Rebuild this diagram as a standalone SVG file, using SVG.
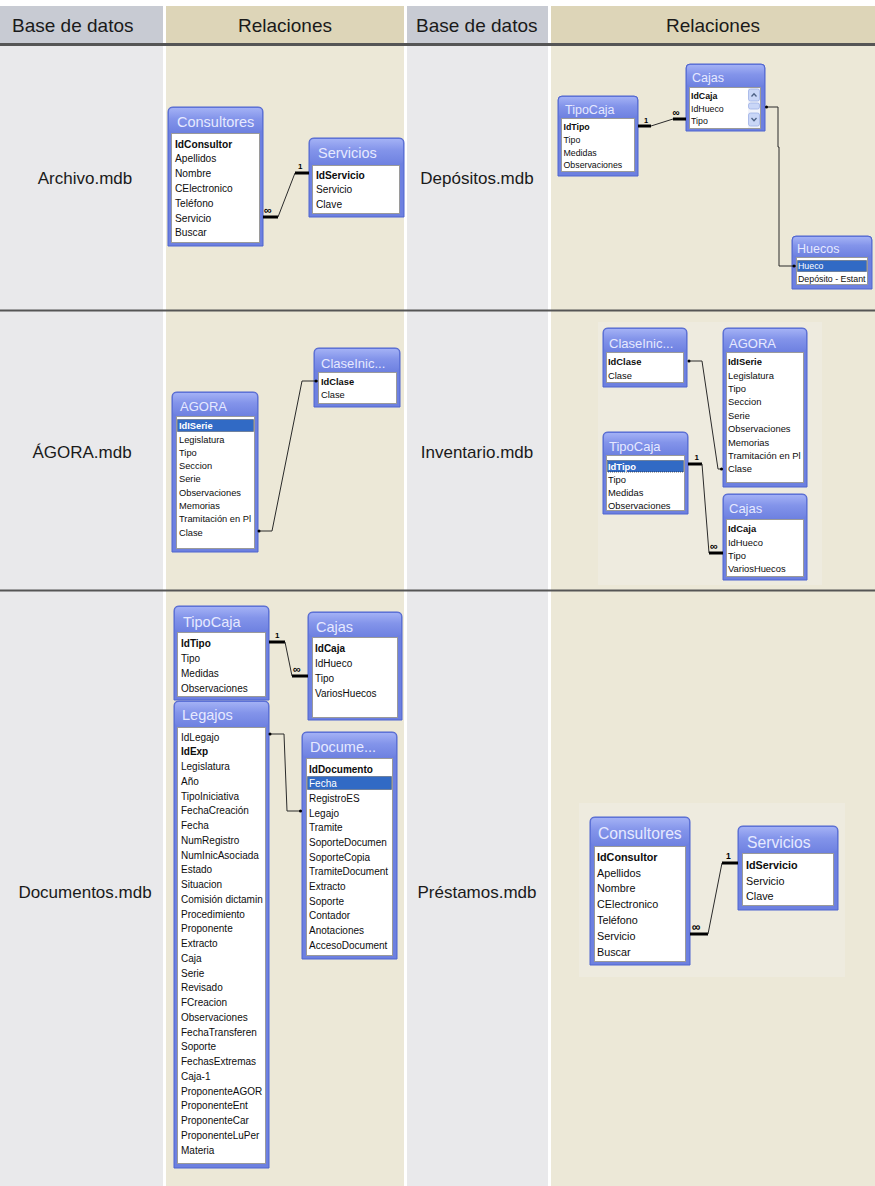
<svg xmlns="http://www.w3.org/2000/svg" width="875" height="1186" viewBox="0 0 875 1186">
<style>
.fr{fill:#6d80e0;stroke:#4f64cf;stroke-width:1}
.tg{fill:url(#tgr)}
.ls{fill:#fff;stroke:#9a9a9a;stroke-width:1}
.tt{font-family:"Liberation Sans",Arial,sans-serif;fill:#e6e9ff}
.f{font-family:"Liberation Sans",Arial,sans-serif;fill:#0d0d0d}
.b{font-weight:bold}
.sl{fill:#316ac5;stroke:#222;stroke-width:0.7;stroke-dasharray:1 1}
.w{fill:#fff}
.ln{fill:none;stroke:#2a2a2a;stroke-width:1}
.tk{fill:none;stroke:#000;stroke-width:3}
.dt{fill:#000}
.cd{font-family:"Liberation Sans",Arial,sans-serif;font-weight:bold;fill:#000}
.hd{font-family:"Liberation Sans",Arial,sans-serif;font-size:19px;fill:#1a1a1a}
.lb{font-family:"Liberation Sans",Arial,sans-serif;font-size:17px;fill:#1a1a1a}
.g1{fill:#e9e9eb}.g2{fill:#ece8d7}
.sep{fill:#555}
.sb{fill:#c9d6f7;stroke:#9fb1e6;stroke-width:0.8}
.ar{fill:none;stroke:#4d6185;stroke-width:1.3}
.ib{fill:#eeebdf}
</style>
<defs>
<linearGradient id="tgr" x1="0" y1="0" x2="0" y2="1">
<stop offset="0" stop-color="#a3b1f5"/>
<stop offset="0.45" stop-color="#8394ea"/>
<stop offset="1" stop-color="#6f82e1"/>
</linearGradient>
<clipPath id="c1"><rect x="176" y="416" width="79" height="133"/></clipPath>
<clipPath id="c2"><rect x="726" y="352" width="78" height="131"/></clipPath>
<clipPath id="c3"><rect x="796" y="257" width="72" height="28"/></clipPath>
<clipPath id="c4"><rect x="177" y="727" width="89" height="437"/></clipPath>
<clipPath id="c5"><rect x="306" y="758" width="87" height="198"/></clipPath>
</defs>

<g id="background">
<rect x="0" y="0" width="875" height="1186" fill="#fff"/>
<rect x="0" y="6" width="163" height="37" fill="#c8cbd3"/>
<rect x="166" y="6" width="238" height="37" fill="#ddd5b8"/>
<rect x="407" y="6" width="141" height="37" fill="#c8cbd3"/>
<rect x="551" y="6" width="324" height="37" fill="#ddd5b8"/>
<rect class="g1" x="0" y="46" width="163" height="1140"/>
<rect class="g2" x="166" y="46" width="238" height="1140"/>
<rect class="g1" x="407" y="46" width="141" height="1140"/>
<rect class="g2" x="551" y="46" width="324" height="1140"/>
<rect class="ib" x="598" y="322" width="224" height="263"/>
<rect class="ib" x="579" y="803" width="266" height="174"/>
<rect class="sep" x="0" y="43" width="875" height="3"/>
<rect class="sep" x="0" y="309.5" width="875" height="2"/>
<rect class="sep" x="0" y="589.5" width="875" height="2"/>
</g>

<g id="headers">
<text class="hd" x="12" y="32">Base de datos</text>
<text class="hd" x="285" y="32" text-anchor="middle">Relaciones</text>
<text class="hd" x="416" y="32">Base de datos</text>
<text class="hd" x="713" y="32" text-anchor="middle">Relaciones</text>
</g>

<g id="labels">
<text class="lb" x="85" y="184" text-anchor="middle">Archivo.mdb</text>
<text class="lb" x="477" y="184" text-anchor="middle">Depósitos.mdb</text>
<text class="lb" x="82" y="458" text-anchor="middle">ÁGORA.mdb</text>
<text class="lb" x="477" y="458" text-anchor="middle">Inventario.mdb</text>
<text class="lb" x="85" y="898" text-anchor="middle">Documentos.mdb</text>
<text class="lb" x="477" y="898" text-anchor="middle">Préstamos.mdb</text>
</g>

<!-- Archivo -->
<g id="archivo-consultores">
<path class="fr" d="M168,246V112Q168,107 173,107H258Q263,107 263,112V246Z"/>
<rect class="tg" x="169" y="108" width="93" height="24" rx="4"/>
<text class="tt" x="177" y="127" font-size="14.5">Consultores</text>
<rect class="ls" x="171.5" y="133.5" width="88" height="109"/>
<g class="f" font-size="10.2">
<text class="b" x="175" y="147.5">IdConsultor</text>
<text x="175" y="162.3">Apellidos</text>
<text x="175" y="177.1">Nombre</text>
<text x="175" y="191.9">CElectronico</text>
<text x="175" y="206.7">Teléfono</text>
<text x="175" y="221.5">Servicio</text>
<text x="175" y="236.3">Buscar</text>
</g>
</g>
<g id="archivo-servicios">
<path class="fr" d="M309,217V143Q309,138 314,138H399Q404,138 404,143V217Z"/>
<rect class="tg" x="310" y="139" width="93" height="25" rx="4"/>
<text class="tt" x="318" y="158" font-size="14.5">Servicios</text>
<rect class="ls" x="312.5" y="165.5" width="87" height="48"/>
<g class="f" font-size="10.2">
<text class="b" x="316" y="178.6">IdServicio</text>
<text x="316" y="193.4">Servicio</text>
<text x="316" y="208.2">Clave</text>
</g>
</g>

<!-- Depositos -->
<g id="depositos-tipocaja">
<path class="fr" d="M558,176V100Q558,96 562,96H634Q638,96 638,100V176Z"/>
<rect class="tg" x="559" y="97" width="78" height="20" rx="3"/>
<text class="tt" x="565" y="113.5" font-size="12.5">TipoCaja</text>
<rect class="ls" x="561.5" y="118.5" width="73" height="53"/>
<g class="f" font-size="8.8">
<text class="b" x="563.5" y="130">IdTipo</text>
<text x="563.5" y="143">Tipo</text>
<text x="563.5" y="155.5">Medidas</text>
<text x="563.5" y="168">Observaciones</text>
</g>
</g>
<g id="depositos-cajas">
<path class="fr" d="M686,131V68Q686,64 690,64H761Q765,64 765,68V131Z"/>
<rect class="tg" x="687" y="65" width="77" height="21" rx="3"/>
<text class="tt" x="692" y="81.5" font-size="12.5">Cajas</text>
<rect class="ls" x="689.5" y="87.5" width="71" height="41"/>
<rect x="748" y="88" width="12" height="40" fill="#f1f3fb"/>
<rect class="sb" x="748.5" y="89" width="11" height="12" rx="2"/>
<polyline class="ar" points="751.5,96.5 754,93.8 756.5,96.5"/>
<rect class="sb" x="748.5" y="103" width="11" height="6" rx="2"/>
<rect class="sb" x="748.5" y="113" width="11" height="13" rx="2"/>
<polyline class="ar" points="751.5,118 754,120.8 756.5,118"/>
<g class="f" font-size="8.8">
<text class="b" x="691" y="99">IdCaja</text>
<text x="691" y="111.5">IdHueco</text>
<text x="691" y="124">Tipo</text>
</g>
</g>
<g id="depositos-huecos">
<path class="fr" d="M792,289V240Q792,236 796,236H868Q872,236 872,240V289Z"/>
<rect class="tg" x="793" y="237" width="78" height="19" rx="3"/>
<text class="tt" x="797" y="252.5" font-size="12.5">Huecos</text>
<rect class="ls" x="796.5" y="257.5" width="71" height="27"/>
<g clip-path="url(#c3)">
<rect class="sl" x="797.5" y="260.5" width="69" height="11"/>
<g class="f" font-size="8.8">
<text class="w" x="798" y="269.3">Hueco</text>
<text x="798" y="282">Depósito - Estant</text>
</g>
</g>
</g>

<!-- AGORA -->
<g id="agora-agora">
<path class="fr" d="M172,552V397Q172,392 177,392H253Q258,392 258,397V552Z"/>
<rect class="tg" x="173" y="393" width="84" height="22" rx="4"/>
<text class="tt" x="180" y="410.5" font-size="13">AGORA</text>
<rect class="ls" x="176.5" y="416.5" width="78" height="132"/>
<g clip-path="url(#c1)">
<rect class="sl" x="177.5" y="419.5" width="76" height="12"/>
<g class="f" font-size="9.3">
<text class="b w" x="179" y="429.2">IdISerie</text>
<text x="179" y="442.5">Legislatura</text>
<text x="179" y="455.8">Tipo</text>
<text x="179" y="469.1">Seccion</text>
<text x="179" y="482.4">Serie</text>
<text x="179" y="495.7">Observaciones</text>
<text x="179" y="509">Memorias</text>
<text x="179" y="522.3">Tramitación en Pl</text>
<text x="179" y="535.6">Clase</text>
</g>
</g>
</g>
<g id="agora-claseinic">
<path class="fr" d="M314,407V353Q314,348 319,348H395Q400,348 400,353V407Z"/>
<rect class="tg" x="315" y="349" width="84" height="22" rx="4"/>
<text class="tt" x="321" y="367.5" font-size="13">ClaseInic...</text>
<rect class="ls" x="318.5" y="372.5" width="78" height="31"/>
<g class="f" font-size="9.3">
<text class="b" x="321" y="385">IdClase</text>
<text x="321" y="398.3">Clase</text>
</g>
</g>

<!-- Inventario -->
<g id="inventario-claseinic">
<path class="fr" d="M603,387V333Q603,328 608,328H682Q687,328 687,333V387Z"/>
<rect class="tg" x="604" y="329" width="82" height="22" rx="4"/>
<text class="tt" x="609" y="347.5" font-size="13">ClaseInic...</text>
<rect class="ls" x="606.5" y="352.5" width="77" height="30"/>
<g class="f" font-size="9.4">
<text class="b" x="608" y="365.2">IdClase</text>
<text x="608" y="378.6">Clase</text>
</g>
</g>
<g id="inventario-agora">
<path class="fr" d="M723,487V333Q723,328 728,328H802Q807,328 807,333V487Z"/>
<rect class="tg" x="724" y="329" width="82" height="22" rx="4"/>
<text class="tt" x="729" y="347.5" font-size="13">AGORA</text>
<rect class="ls" x="726.5" y="352.5" width="77" height="130"/>
<g clip-path="url(#c2)">
<g class="f" font-size="9.4">
<text class="b" x="728" y="365.2">IdISerie</text>
<text x="728" y="378.6">Legislatura</text>
<text x="728" y="392">Tipo</text>
<text x="728" y="405.4">Seccion</text>
<text x="728" y="418.8">Serie</text>
<text x="728" y="432.2">Observaciones</text>
<text x="728" y="445.6">Memorias</text>
<text x="728" y="459">Tramitación en Pl</text>
<text x="728" y="472.4">Clase</text>
</g>
</g>
</g>
<g id="inventario-tipocaja">
<path class="fr" d="M603,514V437Q603,432 608,432H683Q688,432 688,437V514Z"/>
<rect class="tg" x="604" y="433" width="83" height="21" rx="4"/>
<text class="tt" x="609" y="450.5" font-size="13">TipoCaja</text>
<rect class="ls" x="606.5" y="455.5" width="78" height="55"/>
<rect class="sl" x="607.5" y="460.5" width="76" height="11.5"/>
<g class="f" font-size="9.4">
<text class="b w" x="608" y="469.5">IdTipo</text>
<text x="608" y="482.8">Tipo</text>
<text x="608" y="496.1">Medidas</text>
<text x="608" y="509.2">Observaciones</text>
</g>
</g>
<g id="inventario-cajas">
<path class="fr" d="M723,580V499Q723,494 728,494H802Q807,494 807,499V580Z"/>
<rect class="tg" x="724" y="495" width="82" height="23" rx="4"/>
<text class="tt" x="729" y="512.5" font-size="13">Cajas</text>
<rect class="ls" x="726.5" y="519.5" width="77" height="57"/>
<g class="f" font-size="9.4">
<text class="b" x="728" y="532.2">IdCaja</text>
<text x="728" y="545.6">IdHueco</text>
<text x="728" y="559">Tipo</text>
<text x="728" y="572.4">VariosHuecos</text>
</g>
</g>

<!-- Documentos -->
<g id="documentos-tipocaja">
<path class="fr" d="M174,700V611Q174,606 179,606H264Q269,606 269,611V700Z"/>
<rect class="tg" x="175" y="607" width="93" height="24" rx="4"/>
<text class="tt" x="183" y="627" font-size="14.5">TipoCaja</text>
<rect class="ls" x="177.5" y="632.5" width="88" height="64"/>
<g class="f" font-size="10">
<text class="b" x="181" y="646.5">IdTipo</text>
<text x="181" y="661.5">Tipo</text>
<text x="181" y="676.5">Medidas</text>
<text x="181" y="691.5">Observaciones</text>
</g>
</g>
<g id="documentos-cajas">
<path class="fr" d="M308,720V617Q308,612 313,612H397Q402,612 402,617V720Z"/>
<rect class="tg" x="309" y="613" width="92" height="23" rx="4"/>
<text class="tt" x="316" y="632" font-size="14.5">Cajas</text>
<rect class="ls" x="312.5" y="637.5" width="85" height="80"/>
<g class="f" font-size="10">
<text class="b" x="315" y="651.5">IdCaja</text>
<text x="315" y="666.5">IdHueco</text>
<text x="315" y="681.5">Tipo</text>
<text x="315" y="696.5">VariosHuecos</text>
</g>
</g>
<g id="documentos-legajos">
<path class="fr" d="M174,1168V706Q174,701 179,701H264Q269,701 269,706V1168Z"/>
<rect class="tg" x="175" y="702" width="93" height="24" rx="4"/>
<text class="tt" x="182" y="720" font-size="14.5">Legajos</text>
<rect class="ls" x="177.5" y="727.5" width="88" height="436"/>
<g clip-path="url(#c4)">
<g class="f" font-size="10">
<text x="181" y="740.5">IdLegajo</text>
<text class="b" x="181" y="755.25">IdExp</text>
<text x="181" y="770">Legislatura</text>
<text x="181" y="784.75">Año</text>
<text x="181" y="799.5">TipoIniciativa</text>
<text x="181" y="814.25">FechaCreación</text>
<text x="181" y="829">Fecha</text>
<text x="181" y="843.75">NumRegistro</text>
<text x="181" y="858.5">NumInicAsociada</text>
<text x="181" y="873.25">Estado</text>
<text x="181" y="888">Situacion</text>
<text x="181" y="902.75">Comisión dictamin</text>
<text x="181" y="917.5">Procedimiento</text>
<text x="181" y="932.25">Proponente</text>
<text x="181" y="947">Extracto</text>
<text x="181" y="961.75">Caja</text>
<text x="181" y="976.5">Serie</text>
<text x="181" y="991.25">Revisado</text>
<text x="181" y="1006">FCreacion</text>
<text x="181" y="1020.75">Observaciones</text>
<text x="181" y="1035.5">FechaTransferen</text>
<text x="181" y="1050.25">Soporte</text>
<text x="181" y="1065">FechasExtremas</text>
<text x="181" y="1079.75">Caja-1</text>
<text x="181" y="1094.5">ProponenteAGOR</text>
<text x="181" y="1109.25">ProponenteEnt</text>
<text x="181" y="1124">ProponenteCar</text>
<text x="181" y="1138.75">ProponenteLuPer</text>
<text x="181" y="1153.5">Materia</text>
</g>
</g>
</g>
<g id="documentos-documentos">
<path class="fr" d="M302,959V737Q302,732 307,732H392Q397,732 397,737V959Z"/>
<rect class="tg" x="303" y="733" width="93" height="24" rx="4"/>
<text class="tt" x="310" y="752" font-size="14.5">Docume...</text>
<rect class="ls" x="306.5" y="758.5" width="86" height="197"/>
<g clip-path="url(#c5)">
<rect class="sl" x="307.5" y="776.5" width="84" height="13"/>
<g class="f" font-size="10">
<text class="b" x="309" y="772.5">IdDocumento</text>
<text class="w" x="309" y="787.2">Fecha</text>
<text x="309" y="801.8">RegistroES</text>
<text x="309" y="816.5">Legajo</text>
<text x="309" y="831.2">Tramite</text>
<text x="309" y="845.8">SoporteDocumen</text>
<text x="309" y="860.5">SoporteCopia</text>
<text x="309" y="875.2">TramiteDocument</text>
<text x="309" y="889.9">Extracto</text>
<text x="309" y="904.5">Soporte</text>
<text x="309" y="919.2">Contador</text>
<text x="309" y="933.9">Anotaciones</text>
<text x="309" y="948.5">AccesoDocument</text>
</g>
</g>
</g>

<!-- Prestamos -->
<g id="prestamos-consultores">
<path class="fr" d="M590,965V822Q590,817 595,817H685Q690,817 690,822V965Z"/>
<rect class="tg" x="591" y="818" width="98" height="27" rx="4"/>
<text class="tt" x="598" y="838.5" font-size="15.7">Consultores</text>
<rect class="ls" x="594.5" y="846.5" width="91" height="115"/>
<g class="f" font-size="10.8">
<text class="b" x="597" y="860.8">IdConsultor</text>
<text x="597" y="876.6">Apellidos</text>
<text x="597" y="892.4">Nombre</text>
<text x="597" y="908.2">CElectronico</text>
<text x="597" y="924">Teléfono</text>
<text x="597" y="939.8">Servicio</text>
<text x="597" y="955.6">Buscar</text>
</g>
</g>
<g id="prestamos-servicios">
<path class="fr" d="M738,910V831Q738,826 743,826H833Q838,826 838,831V910Z"/>
<rect class="tg" x="739" y="827" width="98" height="25" rx="4"/>
<text class="tt" x="747" y="847.5" font-size="15.7">Servicios</text>
<rect class="ls" x="742.5" y="853.5" width="91" height="52"/>
<g class="f" font-size="10.8">
<text class="b" x="746" y="868.8">IdServicio</text>
<text x="746" y="884.6">Servicio</text>
<text x="746" y="900.4">Clave</text>
</g>
</g>

<g id="connectors">
<!-- Archivo -->
<line class="tk" x1="263" y1="217" x2="278" y2="217"/>
<line class="ln" x1="278" y1="217" x2="295" y2="173"/>
<line class="tk" x1="295" y1="173" x2="309" y2="173"/>
<text class="cd" x="264" y="214" font-size="11">∞</text>
<text class="cd" x="298" y="169" font-size="8">1</text>
<!-- Depositos -->
<line class="tk" x1="638" y1="126" x2="651" y2="126"/>
<line class="ln" x1="651" y1="126" x2="673" y2="119"/>
<line class="tk" x1="673" y1="119" x2="686" y2="119"/>
<text class="cd" x="644" y="122.5" font-size="7.5">1</text>
<text class="cd" x="672.5" y="116" font-size="10">∞</text>
<polyline class="ln" points="766,107 778,107 778,147 779,147 779,266 796,266"/>
<circle class="dt" cx="766.5" cy="107" r="1.5"/>
<circle class="dt" cx="794" cy="266" r="1.5"/>
<!-- AGORA -->
<polyline class="ln" points="258,531 272,531 302,381 318,381"/>
<circle class="dt" cx="259" cy="531" r="1.5"/>
<circle class="dt" cx="316" cy="381" r="1.5"/>
<!-- Inventario -->
<polyline class="ln" points="688,361 702,361 718,469 723,469"/>
<circle class="dt" cx="689" cy="361" r="1.5"/>
<circle class="dt" cx="721.5" cy="469" r="1.5"/>
<line class="tk" x1="688" y1="464" x2="702" y2="464"/>
<line class="ln" x1="702" y1="464" x2="709" y2="553"/>
<line class="tk" x1="709" y1="553" x2="723" y2="553"/>
<text class="cd" x="694.5" y="460" font-size="8">1</text>
<text class="cd" x="710" y="550" font-size="11">∞</text>
<!-- Documentos -->
<line class="tk" x1="269" y1="642" x2="285" y2="642"/>
<line class="ln" x1="285" y1="642" x2="292" y2="676"/>
<line class="tk" x1="292" y1="676" x2="308" y2="676"/>
<text class="cd" x="275" y="638" font-size="8">1</text>
<text class="cd" x="293" y="673" font-size="11">∞</text>
<polyline class="ln" points="269,734 284,734 287,811 302,811"/>
<circle class="dt" cx="270" cy="734" r="1.5"/>
<circle class="dt" cx="300.5" cy="811" r="1.5"/>
<!-- Prestamos -->
<line class="tk" x1="690" y1="934" x2="708" y2="934"/>
<line class="ln" x1="708" y1="934" x2="722" y2="863"/>
<line class="tk" x1="722" y1="863" x2="738" y2="863"/>
<text class="cd" x="692" y="931" font-size="12">∞</text>
<text class="cd" x="726" y="858.5" font-size="8.5">1</text>
</g>
</svg>
